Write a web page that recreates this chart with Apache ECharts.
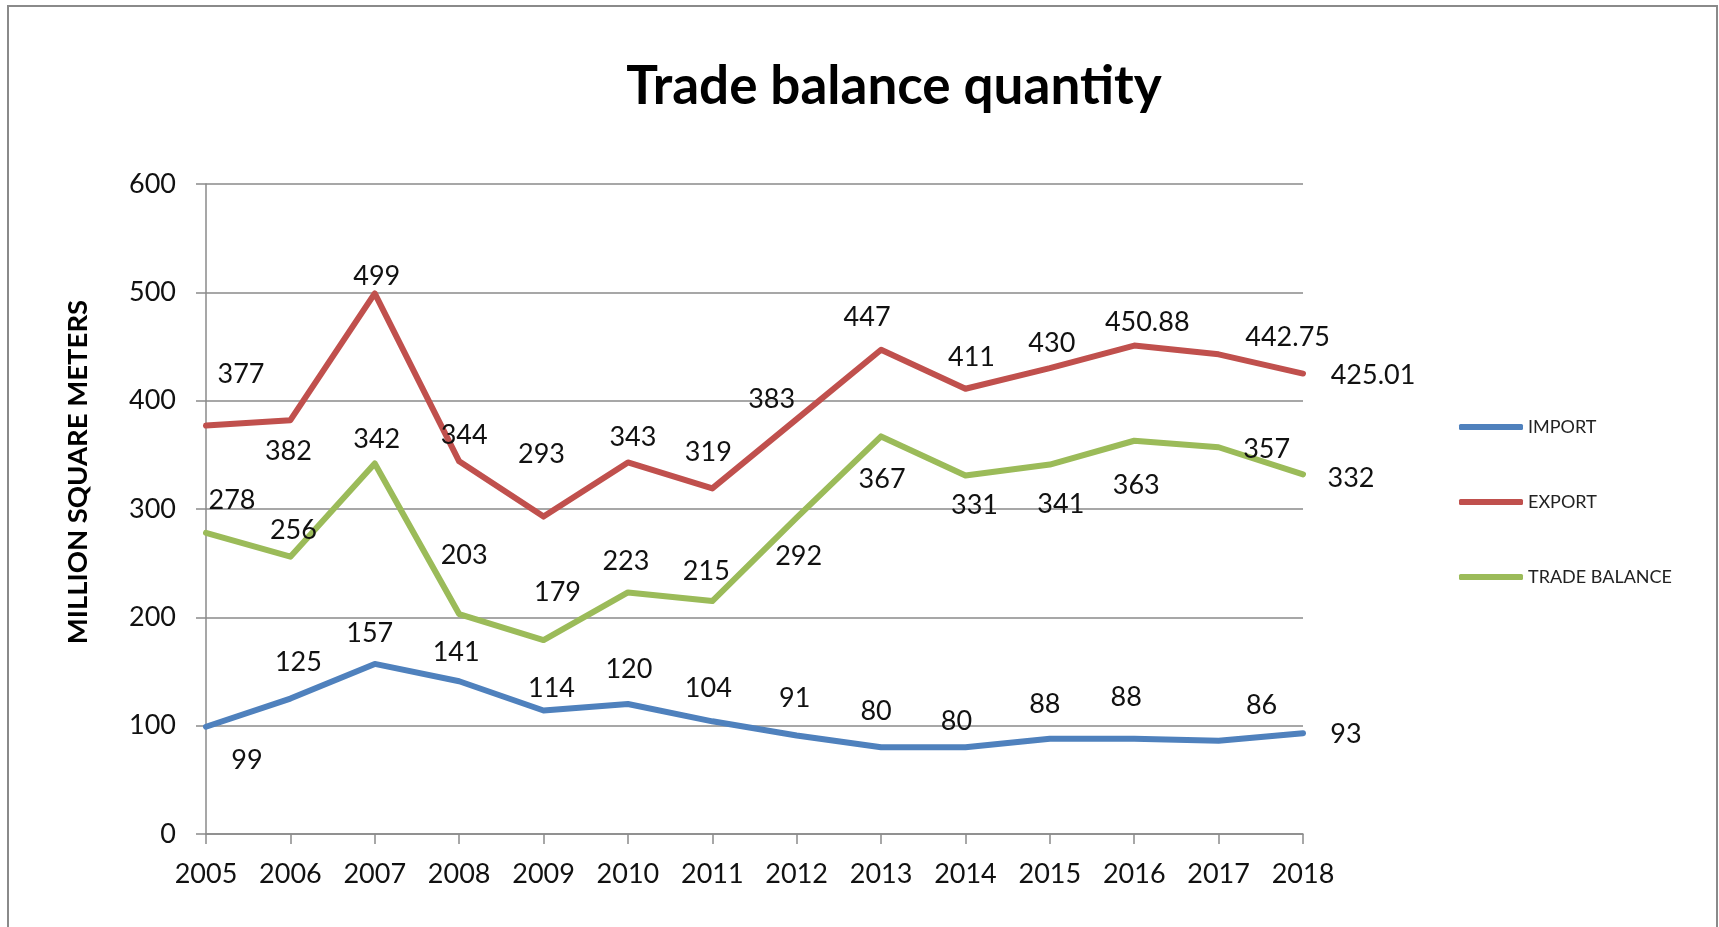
<!DOCTYPE html>
<html>
<head>
<meta charset="utf-8">
<style>
  html, body { margin: 0; padding: 0; background: #fff; }
  #chart { width: 1719px; height: 927px; }
</style>
<script src="https://cdn.jsdelivr.net/npm/echarts@6/dist/echarts.min.js"></script>
</head>
<body>
<div id="chart"></div>
<script>
const years = ['2005','2006','2007','2008','2009','2010','2011','2012','2013','2014','2015','2016','2017','2018'];
const importValues = [99,125,157,141,114,120,104,91,80,80,88,88,86,93];
const exportValues = [377,382,499,344,293,343,319,383,447,411,430,450.88,442.75,425.01];
const tradeBalanceValues = [278,256,342,203,179,223,215,292,367,331,341,363,357,332];
const seriesNames = ['IMPORT','EXPORT','TRADE BALANCE'];
const yTicks = [0,100,200,300,400,500,600];

// label offsets (style only, in pixels)
const importLabelOffsets = [[41,34],[8,-36],[-5,-31],[-3,-29],[8,-22],[1,-35],[-4,-33],[-2,-37],[-5,-36],[-9,-26],[-5,-34],[-8,-41],[43,-36],[43,1]];
const exportLabelOffsets = [[35,-51],[-2,31],[2,-17],[5,-26],[-2,-62],[5,-25],[-4,-36],[-25,-20],[-14,-32],[6,-31],[2,-25],[13,-23],[69,-17],[70,2]];
const tradeLabelOffsets = [[26,-33],[3,-26],[2,-24],[5,-59],[14,-48],[-2,-31],[-6,-30],[2,39],[1,43],[9,30],[11,40],[2,45],[48,2],[48,4]];

const colors = ['#4F81BD','#C0504D','#9BBB59'];
const FONT = 'Lato';

function buildData(values, offsets) {
  return values.map((v, i) => ({
    value: v,
    label: { offset: offsets[i] }
  }));
}

function makeSeries(name, values, offsets, color) {
  return {
    name: name,
    type: 'line',
    data: buildData(values, offsets),
    symbol: 'circle',
    symbolSize: 1,
    showSymbol: true,
    itemStyle: { color: color },
    lineStyle: { color: color, width: 6, cap: 'round', join: 'round' },
    label: {
      show: true,
      position: 'inside',
      fontFamily: FONT,
      fontSize: 27,
      color: '#111',
      formatter: p => String(p.value)
    },
    emphasis: { disabled: true },
    animation: false
  };
}

const chart = echarts.init(document.getElementById('chart'), null, { renderer: 'canvas' });
chart.setOption({
  backgroundColor: '#fff',
  animation: false,
  title: {
    text: 'Trade balance quantity',
    left: 889,
    textAlign: 'center',
    top: 55,
    textStyle: { fontFamily: FONT, fontWeight: 'bold', fontSize: 53, color: '#000' }
  },
  graphic: [{
    type: 'rect',
    shape: { x: 8, y: 6, width: 1709, height: 960 },
    style: { fill: 'none', stroke: '#8a8a8a', lineWidth: 2 },
    silent: true,
    z: -10
  }],
  legend: {
    orient: 'vertical',
    left: 1454,
    top: 412,
    itemWidth: 64,
    itemHeight: 6,
    itemGap: 55,
    icon: 'roundRect',
    data: seriesNames,
    textStyle: { fontFamily: FONT, fontSize: 18, color: '#222', lineHeight: 20 },
    selectedMode: false
  },
  grid: { left: 206, right: 416, top: 184, bottom: 93, containLabel: false, outerBoundsMode: 'none' },
  xAxis: {
    type: 'category',
    data: years,
    boundaryGap: false,
    axisLine: { show: true, lineStyle: { color: '#8a8a8a', width: 1.5 } },
    axisTick: { show: true, length: 10, inside: false, lineStyle: { color: '#8a8a8a', width: 1.5 } },
    axisLabel: { fontFamily: FONT, fontSize: 27, color: '#111', margin: 27, interval: 0 },
    splitLine: { show: false }
  },
  yAxis: {
    type: 'value',
    min: yTicks[0],
    max: yTicks[yTicks.length - 1],
    interval: 100,
    name: 'MILLION SQUARE METERS',
    nameLocation: 'middle',
    nameRotate: 90,
    nameGap: 114,
    nameTextStyle: { fontFamily: FONT, fontWeight: 'bold', fontSize: 27.5, color: '#000', padding: [0, 0, 0, 74] },
    axisLine: { show: true, lineStyle: { color: '#8a8a8a', width: 1.5 } },
    axisTick: { show: true, length: 10, inside: false, lineStyle: { color: '#8a8a8a', width: 1.5 } },
    axisLabel: { fontFamily: FONT, fontSize: 27, color: '#111', margin: 30 },
    splitLine: { show: true, lineStyle: { color: '#8a8a8a', width: 1.5 } }
  },
  series: [
    makeSeries(seriesNames[0], importValues, importLabelOffsets, colors[0]),
    makeSeries(seriesNames[1], exportValues, exportLabelOffsets, colors[1]),
    makeSeries(seriesNames[2], tradeBalanceValues, tradeLabelOffsets, colors[2])
  ]
});
</script>
</body>
</html>
